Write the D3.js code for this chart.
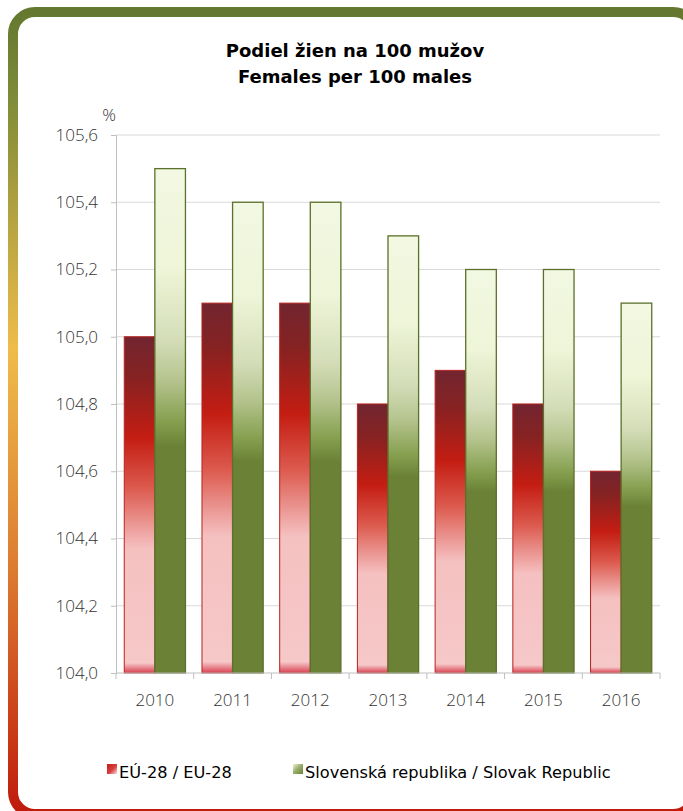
<!DOCTYPE html>
<html>
<head>
<meta charset="utf-8">
<script src="https://cdn.jsdelivr.net/npm/d3@7"></script>
<style>
  html, body { margin: 0; padding: 0; background: #fff; }
  svg { display: block; }
</style>
</head>
<body>
<div id="chart"></div>
<script>
// Females per 100 males, EU-28 vs Slovak Republic
const years = ["2010", "2011", "2012", "2013", "2014", "2015", "2016"];
const euValues = [105.0, 105.1, 105.1, 104.8, 104.9, 104.8, 104.6];
const skValues = [105.5, 105.4, 105.4, 105.3, 105.2, 105.2, 105.1];
const yTicks = [104.0, 104.2, 104.4, 104.6, 104.8, 105.0, 105.2, 105.4, 105.6];
const seriesNames = ["EÚ-28 / EU-28", "Slovenská republika / Slovak Republic"];
const titleLines = ["Podiel žien na 100 mužov", "Females per 100 males"];

const W = 683, H = 811;
const svg = d3.select("#chart").append("svg").attr("width", W).attr("height", H);
const defs = svg.append("defs");

// Frame gradient: olive at top, amber in the middle, red at the bottom
const fg = defs.append("linearGradient").attr("id", "frameGrad")
  .attr("x1", 0).attr("y1", 0).attr("x2", 0).attr("y2", 1);
[[0, "#64782f"], [0.1, "#7c8a38"], [0.42, "#eebc4a"], [0.7, "#dc7a30"], [1, "#bf1a0c"]]
  .forEach(([o, c]) => fg.append("stop").attr("offset", o).attr("stop-color", c));

// Bar gradients
const rg = defs.append("linearGradient").attr("id", "euGrad")
  .attr("x1", 0).attr("y1", 0).attr("x2", 0).attr("y2", 1);
[[0, "#722530"], [0.12, "#862222"], [0.3, "#c41d12"], [0.45, "#dc5a4e"], [0.58, "#eea4a2"],
 [0.63, "#f5c0c0"], [0.97, "#f6c8c8"], [1, "#d84050"]]
  .forEach(([o, c]) => rg.append("stop").attr("offset", o).attr("stop-color", c));

const gg = defs.append("linearGradient").attr("id", "skGrad")
  .attr("x1", 0).attr("y1", 0).attr("x2", 0).attr("y2", 1);
[[0, "#f2f8e2"], [0.2, "#eef5d8"], [0.34, "#d4ddb8"], [0.42, "#b5c48e"], [0.5, "#86a050"],
 [0.55, "#6b8236"], [1, "#6b8236"]]
  .forEach(([o, c]) => gg.append("stop").attr("offset", o).attr("stop-color", c));

// Legend swatch gradients
const lr = defs.append("linearGradient").attr("id", "legEu")
  .attr("x1", 0).attr("y1", 0).attr("x2", 1).attr("y2", 1);
[[0, "#c41d12"], [0.55, "#d84040"], [1, "#fbe0e0"]]
  .forEach(([o, c]) => lr.append("stop").attr("offset", o).attr("stop-color", c));
const lgr = defs.append("linearGradient").attr("id", "legSk")
  .attr("x1", 0).attr("y1", 0).attr("x2", 1).attr("y2", 1);
[[0, "#eef5d8"], [0.45, "#9cb070"], [1, "#6b8236"]]
  .forEach(([o, c]) => lgr.append("stop").attr("offset", o).attr("stop-color", c));

// Rounded frame
svg.append("rect")
  .attr("x", 13).attr("y", 12).attr("width", 682).attr("height", 802)
  .attr("rx", 22).attr("ry", 22)
  .attr("fill", "none").attr("stroke", "url(#frameGrad)").attr("stroke-width", 10);

// Title
const title = svg.append("text")
  .attr("text-anchor", "middle")
  .attr("font-family", "'DejaVu Sans', Verdana, sans-serif")
  .attr("font-weight", "bold").attr("font-size", 18).attr("fill", "#000");
titleLines.forEach((t, i) => title.append("tspan").attr("x", 355).attr("y", 57 + i * 26).text(t));

// Plot area
const margin = { left: 116, right: 23, top: 135, bottom: 138 };
const x0 = d3.scaleBand().domain(years).range([margin.left, W - margin.right]).paddingInner(0).paddingOuter(0);
const x1 = d3.scaleBand().domain([0, 1]).range([0, x0.bandwidth()]).paddingOuter(0.27).paddingInner(0);
const y = d3.scaleLinear().domain([104.0, 105.6]).range([H - margin.bottom, margin.top]);

const axisFont = "'Open Sans', 'Segoe UI', sans-serif";
const axisColor = "#333";

// Horizontal gridlines
svg.append("g").selectAll("line").data(yTicks.slice(1)).join("line")
  .attr("x1", margin.left).attr("x2", W - margin.right)
  .attr("y1", d => y(d)).attr("y2", d => y(d))
  .attr("stroke", "#d9d9d9").attr("stroke-width", 1);

// Y axis
const yAxis = svg.append("g").attr("transform", `translate(${margin.left},0)`)
  .call(d3.axisLeft(y).tickValues(yTicks).tickSize(5).tickPadding(13)
    .tickFormat(d => d3.format(".1f")(d).replace(".", ",")));
yAxis.select(".domain").attr("stroke", "#bfbfbf");
yAxis.selectAll(".tick line").attr("stroke", "#bfbfbf");
yAxis.selectAll("text").attr("font-family", axisFont).attr("font-size", 17)
  .attr("fill", axisColor).attr("font-weight", 300);

svg.append("text").attr("x", 109).attr("y", 121).attr("text-anchor", "middle")
  .attr("font-family", axisFont).attr("font-size", 17).attr("font-weight", 300)
  .attr("fill", axisColor).text("%");

// Bars
const groups = svg.append("g").selectAll("g").data(years).join("g")
  .attr("transform", d => `translate(${x0(d)},0)`);

groups.append("rect")
  .attr("x", x1(0)).attr("width", x1.bandwidth())
  .attr("y", (d, i) => y(euValues[i]))
  .attr("height", (d, i) => y(104.0) - y(euValues[i]))
  .attr("fill", "url(#euGrad)")
  .attr("stroke", "#b8231e").attr("stroke-width", 1);

groups.append("rect")
  .attr("x", x1(1)).attr("width", x1.bandwidth())
  .attr("y", (d, i) => y(skValues[i]))
  .attr("height", (d, i) => y(104.0) - y(skValues[i]))
  .attr("fill", "url(#skGrad)")
  .attr("stroke", "#5b7029").attr("stroke-width", 1.3);

// X axis with ticks at category boundaries
const xAxisG = svg.append("g").attr("transform", `translate(0,${y(104.0)})`);
xAxisG.append("line").attr("x1", margin.left).attr("x2", W - margin.right)
  .attr("stroke", "#bfbfbf");
xAxisG.selectAll("line.tk").data(years.concat(["end"])).join("line").attr("class", "tk")
  .attr("x1", (d, i) => i < years.length ? x0(d) : x0(years[years.length - 1]) + x0.bandwidth())
  .attr("x2", (d, i) => i < years.length ? x0(d) : x0(years[years.length - 1]) + x0.bandwidth())
  .attr("y1", 0).attr("y2", 6).attr("stroke", "#bfbfbf");
xAxisG.selectAll("text").data(years).join("text")
  .attr("x", d => x0(d) + x0.bandwidth() / 2).attr("y", 33)
  .attr("text-anchor", "middle")
  .attr("font-family", axisFont).attr("font-size", 17).attr("font-weight", 300)
  .attr("fill", axisColor).text(d => d);

// Legend
const legendFont = "'DejaVu Sans', Verdana, sans-serif";
const legendItems = [
  { name: seriesNames[0], fill: "url(#legEu)", x: 107 },
  { name: seriesNames[1], fill: "url(#legSk)", x: 293 }
];
const lg = svg.append("g").selectAll("g").data(legendItems).join("g")
  .attr("transform", d => `translate(${d.x},764)`);
lg.append("rect").attr("width", 10).attr("height", 10).attr("fill", d => d.fill);
lg.append("text").attr("x", 12).attr("y", 14)
  .attr("font-family", legendFont).attr("font-size", 16.2).attr("fill", "#000")
  .text(d => d.name);
</script>
</body>
</html>
